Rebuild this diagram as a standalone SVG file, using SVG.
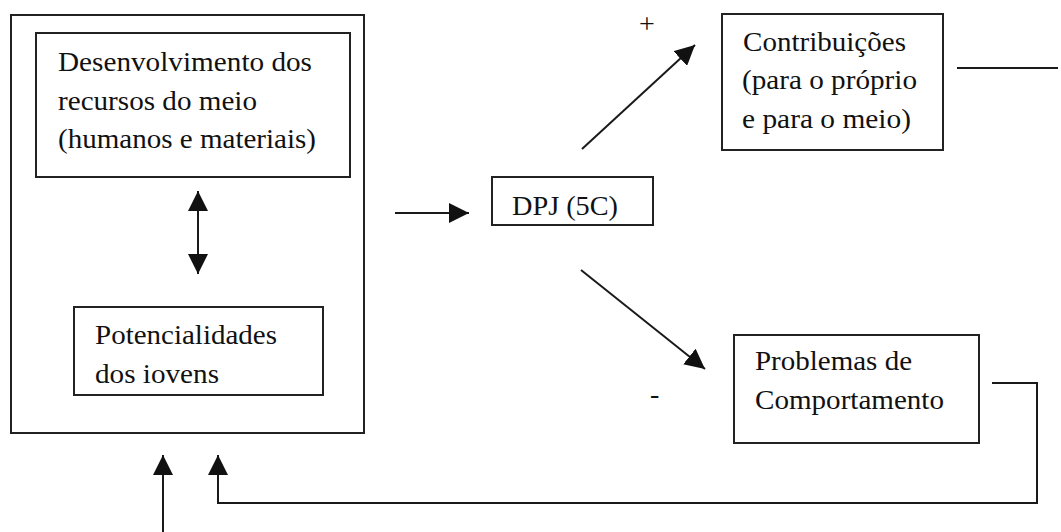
<svg xmlns="http://www.w3.org/2000/svg" width="1061" height="532" viewBox="0 0 1061 532">
<style>
.box{fill:none;stroke:#222;stroke-width:2}
.ln{fill:none;stroke:#1a1a1a;stroke-width:2}
text{font-family:"Liberation Serif","Times New Roman",serif;font-size:28px;fill:#111}
</style>
<defs>
<marker id="ah" viewBox="0 0 20 20" refX="20" refY="10" markerWidth="20" markerHeight="20" markerUnits="userSpaceOnUse" orient="auto-start-reverse">
<path d="M0,0 L20,10 L0,20 z" fill="#111"/>
</marker>
</defs>
<rect width="1061" height="532" fill="#fff"/>
<g id="outer">
<rect class="box" x="11" y="15" width="353" height="418"/>
</g>
<g id="recursos">
<rect class="box" x="36" y="33" width="314" height="144"/>
<text x="58" y="71" textLength="254" lengthAdjust="spacingAndGlyphs">Desenvolvimento dos</text>
<text x="58" y="110" textLength="199" lengthAdjust="spacingAndGlyphs">recursos do meio</text>
<text x="58" y="148" textLength="258" lengthAdjust="spacingAndGlyphs">(humanos e materiais)</text>
</g>
<g id="potencialidades">
<rect class="box" x="74" y="307" width="249" height="88"/>
<text x="95" y="344" textLength="182" lengthAdjust="spacingAndGlyphs">Potencialidades</text>
<text x="95" y="383" textLength="124" lengthAdjust="spacingAndGlyphs">dos iovens</text>
</g>
<g id="dpj">
<rect class="box" x="492" y="177" width="161" height="48"/>
<text x="512" y="215" textLength="106" lengthAdjust="spacingAndGlyphs">DPJ (5C)</text>
</g>
<g id="contribuicoes">
<rect class="box" x="722" y="14" width="221" height="136"/>
<text x="743" y="51" textLength="163" lengthAdjust="spacingAndGlyphs">Contribuições</text>
<text x="742" y="89" textLength="175" lengthAdjust="spacingAndGlyphs">(para o próprio</text>
<text x="742" y="128" textLength="169" lengthAdjust="spacingAndGlyphs">e para o meio)</text>
</g>
<g id="problemas">
<rect class="box" x="734" y="335" width="245" height="108"/>
<text x="755" y="370" textLength="157" lengthAdjust="spacingAndGlyphs">Problemas de</text>
<text x="755" y="409" textLength="189" lengthAdjust="spacingAndGlyphs">Comportamento</text>
</g>
<g id="signs">
<text x="647" y="33" text-anchor="middle">+</text>
<text x="650" y="403">-</text>
</g>
<g id="connectors">
<line class="ln" x1="198" y1="191" x2="198" y2="274" marker-start="url(#ah)" marker-end="url(#ah)"/>
<line class="ln" x1="395" y1="213" x2="469" y2="213" marker-end="url(#ah)"/>
<line class="ln" x1="582" y1="149" x2="695" y2="45" marker-end="url(#ah)"/>
<line class="ln" x1="581" y1="270" x2="705" y2="369" marker-end="url(#ah)"/>
<line class="ln" x1="957" y1="68" x2="1058" y2="68"/>
<line class="ln" x1="163" y1="532" x2="163" y2="455" marker-end="url(#ah)"/>
<polyline class="ln" points="992,383 1037,383 1037,503 218,503 218,455" marker-end="url(#ah)"/>
</g>
</svg>
